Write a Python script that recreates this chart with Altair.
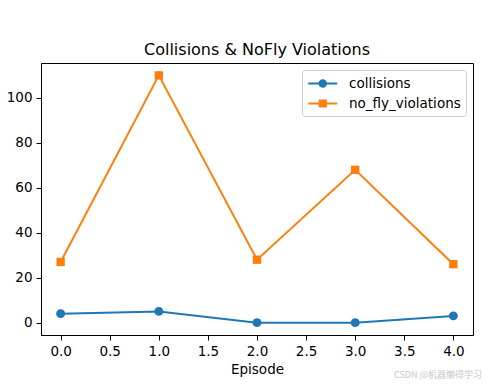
import altair as alt
import pandas as pd

episodes = [0, 1, 2, 3, 4]
collisions = [4, 5, 0, 0, 3]
no_fly_violations = [27, 110, 28, 68, 26]
series_names = ["collisions", "no_fly_violations"]
colors = ["#1f77b4", "#ff7f0e"]
x_ticks = [0, 0.5, 1, 1.5, 2, 2.5, 3, 3.5, 4]
y_ticks = [0, 20, 40, 60, 80, 100]

rows = []
for e, c in zip(episodes, collisions):
    rows.append({"Episode": e, "value": c, "series": "collisions"})
for e, n in zip(episodes, no_fly_violations):
    rows.append({"Episode": e, "value": n, "series": "no_fly_violations"})
df = pd.DataFrame(rows)

FONT = "DejaVu Sans"

xenc = alt.X("Episode:Q",
             scale=alt.Scale(domain=[-0.2, 4.2], nice=False, zero=False),
             axis=alt.Axis(values=x_ticks, format=".1f", title="Episode"))
yenc = alt.Y("value:Q",
             scale=alt.Scale(domain=[-5.5, 115.5], nice=False, zero=False),
             axis=alt.Axis(values=y_ticks, title=None))
# data-driven domain (sorted: collisions, no_fly_violations)
cenc = alt.Color("series:N", scale=alt.Scale(range=colors), legend=None)

base = alt.Chart(df).encode(x=xenc, y=yenc, color=cenc)

line = base.mark_line(strokeWidth=2)
pts_c = base.transform_filter(alt.datum.series == "collisions").mark_point(
    filled=True, size=80, opacity=1, shape="circle")
pts_s = base.transform_filter(alt.datum.series == "no_fly_violations").mark_point(
    filled=True, size=70, opacity=1, shape="square")

# legend glyphs: line segment with marker, extending to the right of the symbol slot
circle_path = "M-1,0H3M0.55,0A0.45,0.45,0,1,1,1.45,0A0.45,0.45,0,1,1,0.55,0Z"
square_path = "M-1,0H3M0.57,-0.43H1.43V0.43H0.57Z"

leg = alt.Legend(title=None, orient="top-right", offset=7, padding=5,
                 strokeColor="#cccccc", fillColor="white", cornerRadius=3,
                 labelFont=FONT, labelFontSize=13.5, labelColor="black",
                 symbolSize=210, symbolStrokeWidth=2, symbolOpacity=1,
                 labelOffset=25, rowPadding=4)
sscale = alt.Scale(domain=series_names, range=colors)
legend_layer = alt.Chart(df).mark_point(
    filled=True, opacity=0).encode(
    x=xenc, y=yenc,
    fill=alt.Fill("series:N", scale=sscale, legend=leg),
    stroke=alt.Stroke("series:N", scale=sscale, legend=leg),
    shape=alt.Shape("series:N", scale=alt.Scale(domain=series_names, range=[circle_path, square_path]), legend=leg),
)

watermark = alt.Chart(pd.DataFrame({"t": ["CSDN @机器懒得学习"]})).mark_text(
    align="right", baseline="middle", font="Noto Sans CJK SC", fontSize=9,
    color="#c8c8c8").encode(text="t:N", x=alt.value(441), y=alt.value(312))

chart = alt.layer(line, pts_c, pts_s, legend_layer, watermark).properties(
    width=432, height=272,
    title=alt.Title("Collisions & NoFly Violations", font=FONT, fontSize=16,
                    fontWeight="normal", color="black", offset=5),
    autosize=alt.AutoSizeParams(type="none"),
    padding={"left": 33, "top": 55, "right": 11, "bottom": 44},
).configure_view(stroke="black", strokeWidth=1).configure_axis(
    grid=False, domainColor="black", tickColor="black", tickSize=5,
    labelFont=FONT, labelFontSize=13.5, labelColor="black", labelPadding=4,
    titleFont=FONT, titleFontSize=13.5, titleFontWeight="normal", titleColor="black",
    titlePadding=5,
).configure_axisY(labelPadding=4)

chart.save("out.html", embed_options={"renderer": "svg", "actions": False})
